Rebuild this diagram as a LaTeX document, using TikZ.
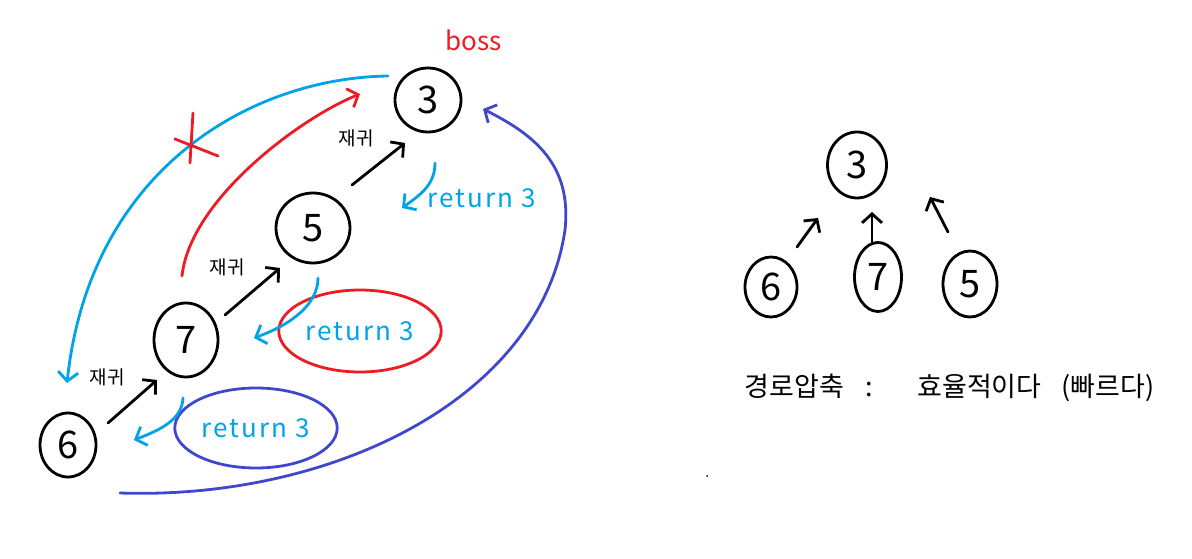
\documentclass[tikz,border=0pt]{standalone}
\usepackage{fontspec}
\setmainfont{Noto Sans CJK KR}
\usepgflibrary{arrows.meta}
\usetikzlibrary{shapes.geometric}
\definecolor{penred}{RGB}{237,28,36}
\definecolor{pencyan}{RGB}{0,162,232}
\definecolor{penblue}{RGB}{63,72,204}

\begin{document}
\begin{tikzpicture}[
  x=1pt, y=-1pt,
  pen/.style={
      line width=2.8pt,
      line cap=round,
      line join=round
    },
  num/.style={
      pen,
      draw,
      ellipse,
      inner sep=0pt,
      font=\fontsize{38}{40}\selectfont
    },
  rec label/.style={
      font=\fontsize{19}{22}\selectfont
    },
  ret label/.style={
      text=pencyan,
      font=\fontsize{26}{30}\selectfont\addfontfeatures{LetterSpace=8}
    },
  rec arrow/.style={
      pen,
      arrows = {-Straight Barb[length=9pt,width=20pt]}
    },
  ret arrow/.style={
      rec arrow,
      draw=pencyan
    }]
  \useasboundingbox (0,0) rectangle (1192,559);

  % find with recursion
  \node [num, minimum width=66pt, minimum height=64pt] (n3) at (428,100) {3};
  \node [num, minimum width=74pt, minimum height=70pt] (n5) at (313,228) {5};
  \node [num, minimum width=64pt, minimum height=74pt] (n7) at (186,340) {7};
  \node [num, minimum width=56pt, minimum height=64pt] (n6) at (68,445) {6};

  \node [text=penred, font=\fontsize{26}{30}\selectfont] (boss) at (474,40) {boss};
  \node [rec label] (rec_a) at (356,138) {재귀};
  \node [rec label] (rec_b) at (227,267) {재귀};
  \node [rec label] (rec_c) at (107,377) {재귀};

  \draw [rec arrow] ([shift={(39,-43)}]n5.center) -- ([shift={(-23,43)}]n3.center);
  \draw [rec arrow] ([shift={(39,-25)}]n7.center) -- ([shift={(-33,40)}]n5.center);
  \draw [rec arrow] ([shift={(40,-22)}]n6.center) -- ([shift={(-29,40)}]n7.center);

  \node [ret label, anchor=west] (ret_a) at (424,198) {return 3};
  \node [ret label, ellipse, pen, draw=penred, minimum width=128pt, minimum height=82pt] (ret_b) at (360,331) {return 3};
  \node [ret label, ellipse, pen, draw=penblue, minimum width=124pt, minimum height=80pt] (ret_c) at (256,428) {return 3};

  \draw [ret arrow] ([shift={(7,63)}]n3.center) .. controls +(0,22) and +(18,-13) .. ([shift={(89,-20)}]n5.center);
  \draw [ret arrow] ([shift={(5,50)}]n5.center) .. controls +(0,27) and +(36,-13) .. ([shift={(68,-2)}]n7.center);
  \draw [ret arrow] ([shift={(-3,58)}]n7.center) .. controls +(-1,22) and +(26,-10) .. ([shift={(66,-5)}]n6.center);

  % direct links
  \draw [rec arrow, draw=penred] ([shift={(-4,-64)}]n7.center) .. controls (190,200) and (300,118) .. ([shift={(-68,-6)}]n3.center);
  \draw [ret arrow] ([shift={(-40,-24)}]n3.center) .. controls (250,78) and (90,170) .. ([shift={(-1,-62)}]n6.center);
  \draw [pen, draw=penred] (193,113) -- (190,163);
  \draw [pen, draw=penred] (175,139) -- (218,156);
  \draw [rec arrow, draw=penblue] ([shift={(52,48)}]n6.center) .. controls (330,500) and (540,400) .. (565,230)
    .. controls (572,165) and (535,135) .. ([shift={(55,9)}]n3.center);

  % compressed tree
  \node [num, minimum width=59pt, minimum height=66pt] (t3) at (857,165) {3};
  \node [num, minimum width=52pt, minimum height=60pt] (t6) at (771,287) {6};
  \node [num, minimum width=47pt, minimum height=69pt] (t7) at (878,277) {7};
  \node [num, minimum width=54pt, minimum height=66pt] (t5) at (970,284) {5};

  \draw [rec arrow] ([shift={(26,-40)}]t6.center) -- ([shift={(-39,53)}]t3.center);
  \draw [rec arrow] ([shift={(-6,-35)}]t7.center) -- ([shift={(15,47)}]t3.center);
  \draw [rec arrow] ([shift={(-22,-52)}]t5.center) -- ([shift={(73,32)}]t3.center);

  \node [anchor=west, font=\fontsize{27}{30}\selectfont] (summary) at (741,388) {경로압축\hspace{22pt}:\hspace{44pt}효율적이다\hspace{20pt}(빠르다)};
  \fill (707,476) circle (1pt);
\end{tikzpicture}
\end{document}
